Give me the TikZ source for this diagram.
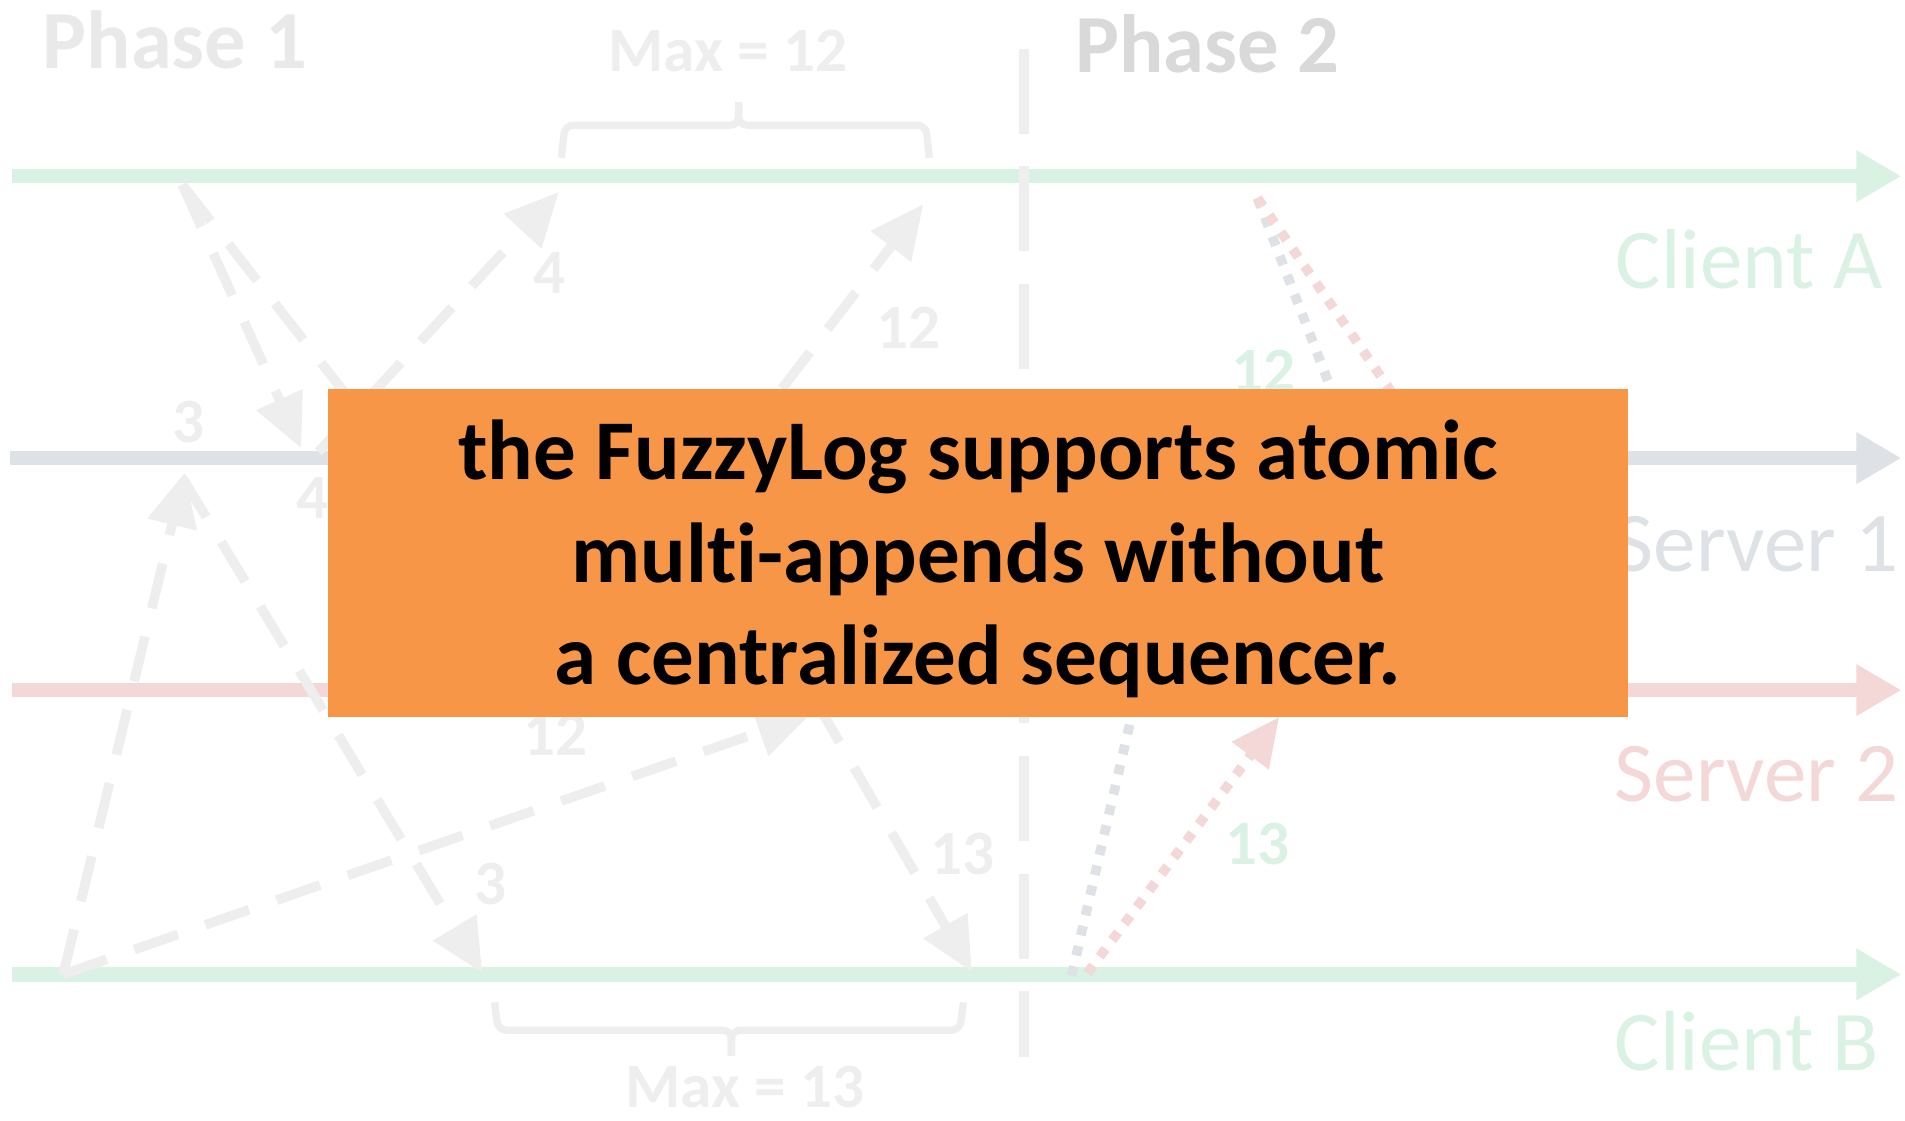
\documentclass[tikz,border=0pt]{standalone}
\usepackage{fontspec}
\setmainfont[Ligatures=NoCommon]{Carlito}
\usetikzlibrary{arrows.meta}
\definecolor{cgreen}{HTML}{D9F2E3}
\definecolor{cblue}{HTML}{DEE1E6}
\definecolor{cpink}{HTML}{F4D7D7}
\definecolor{lgrey}{HTML}{EEEEEE}
\definecolor{phone}{HTML}{E9E9E9}
\definecolor{phtwo}{HTML}{D9D9D9}
\definecolor{orangebox}{HTML}{F79646}
\begin{document}
\begin{tikzpicture}[x=1pt,y=-1pt,
  timeline/.style={line width=12pt,-{Triangle[length=37pt,width=40pt]}},
  msg/.style={draw=lgrey,line width=8pt,dash pattern=on 38pt off 24pt,-{Triangle[length=44pt,width=40pt]}},
  dotmsg/.style={line width=8pt,dash pattern=on 8pt off 9pt,-{Triangle[length=40pt,width=36pt]}},
  num/.style={font=\bfseries\fontsize{52}{52}\selectfont,text=lgrey,inner sep=0pt},
  gnum/.style={font=\bfseries\fontsize{52}{52}\selectfont,text=cgreen,inner sep=0pt},
  lane/.style={font=\fontsize{70}{70}\selectfont,inner sep=0pt},
  phase/.style={font=\bfseries\fontsize{68}{68}\selectfont,inner sep=0pt},
  maxlbl/.style={font=\bfseries\fontsize{52}{52}\selectfont,text=lgrey,inner sep=0pt},
  bracepath/.style={draw=lgrey,line width=6pt,rounded corners=7pt},
  phaseline/.style={draw=lgrey,line width=8pt,dash pattern=on 70pt off 27pt}]
\useasboundingbox (0,0) rectangle (1568,922);

% timelines
\coordinate (caS) at (10,145);  \coordinate (caE) at (1565,145);
\coordinate (s1S) at (8,377);   \coordinate (s1E) at (1565,377);
\coordinate (s2S) at (10,568);  \coordinate (s2E) at (1565,568);
\coordinate (cbS) at (10,802);  \coordinate (cbE) at (1565,802);
\draw[timeline,cgreen] (caS) -- (caE);
\draw[timeline,cblue] (s1S) -- (s1E);
\draw[timeline,cpink] (s2S) -- (s2E);
\draw[timeline,cgreen] (cbS) -- (cbE);

% phase separator
\coordinate (phT) at (843,40); \coordinate (phB) at (843,870);
\draw[phaseline] (phT) -- (phB);

% lane labels
\node[lane,text=cgreen] (lblCA) at (1440,213) {Client A};
\node[lane,text=cblue] (lblS1) at (1446,448) {Server 1};
\node[lane,text=cpink] (lblS2) at (1446,637) {Server 2};
\node[lane,text=cgreen] (lblCB) at (1438,857) {Client B};

% phase titles
\node[phase,text=phone] (ph1) at (144,33) {Phase 1};
\node[phase,text=phtwo] (ph2) at (994,36) {Phase 2};

% braces
\coordinate (b1L) at (462,130); \coordinate (b1Lc) at (465,103);
\coordinate (b1M) at (608,103); \coordinate (b1T) at (608,84);
\coordinate (b1Rc) at (762,103); \coordinate (b1R) at (765,130);
\draw[bracepath] (b1L) -- (b1Lc) -- (b1M) -- (b1T);
\draw[bracepath] (b1R) -- (b1Rc) -- (b1M) -- (b1T);
\node[maxlbl] (max12) at (599,42) {Max = 12};

\coordinate (b2L) at (407,825); \coordinate (b2Lc) at (410,848);
\coordinate (b2M) at (602,848); \coordinate (b2T) at (602,869);
\coordinate (b2Rc) at (790,848); \coordinate (b2R) at (793,825);
\draw[bracepath] (b2L) -- (b2Lc) -- (b2M) -- (b2T);
\draw[bracepath] (b2R) -- (b2Rc) -- (b2M) -- (b2T);
\node[maxlbl] (max13) at (613,895) {Max = 13};

% phase 1 messages
\coordinate (a0) at (150,152); \coordinate (a1) at (248,369);
\coordinate (b1) at (470,562);
\coordinate (c0) at (262,372); \coordinate (c1) at (460,158);
\coordinate (d0) at (455,566); \coordinate (d1) at (760,168);
\coordinate (e0) at (52,802);  \coordinate (e1) at (152,389);
\coordinate (f1) at (667,588);
\coordinate (g0) at (150,393); \coordinate (g1) at (397,801);
\coordinate (h0) at (672,578); \coordinate (h1) at (800,800);
\draw[msg] (a0) -- (a1);
\draw[msg] (a0) -- (b1);
\draw[msg] (c0) -- (c1);
\draw[msg] (d0) -- (d1);
\draw[msg] (e0) -- (e1);
\draw[msg] (e0) -- (f1);
\draw[msg] (g0) -- (g1);
\draw[msg] (h0) -- (h1);

% phase 2 messages
\coordinate (p0) at (1035,163); \coordinate (p1) at (1114,368);
\coordinate (p2) at (1308,558);
\coordinate (q0) at (882,803); \coordinate (q1) at (978,388);
\coordinate (r0) at (895,801); \coordinate (r1) at (1053,590);
\draw[dotmsg,cblue] (p0) -- (p1);
\draw[dotmsg,cpink] (p0) -- (p2);
\draw[dotmsg,cblue] (q0) -- (q1);
\draw[dotmsg,cpink] (r0) -- (r1);

% numbers
\node[num] (n3a) at (155,347) {3};
\node[num] (n4a) at (452,225) {4};
\node[num] (n12a) at (748,270) {12};
\node[num] (n4b) at (257,410) {4};
\node[num] (n12b) at (457,605) {12};
\node[num] (n3b) at (404,728) {3};
\node[num] (n13a) at (792,703) {13};
\node[gnum] (n12g) at (1040,305) {12};
\node[gnum] (n13g) at (1035,695) {13};

% overlay box
\node[fill=orangebox,minimum width=1070pt,minimum height=270pt,inner sep=0pt] (box) at (805,455) {};
\node[align=center,inner sep=0pt,font=\bfseries\fontsize{70}{84}\selectfont] (boxtext) at (805,460)
  {the FuzzyLog supports atomic\\multi-appends without\\a centralized sequencer.};
\end{tikzpicture}
\end{document}
